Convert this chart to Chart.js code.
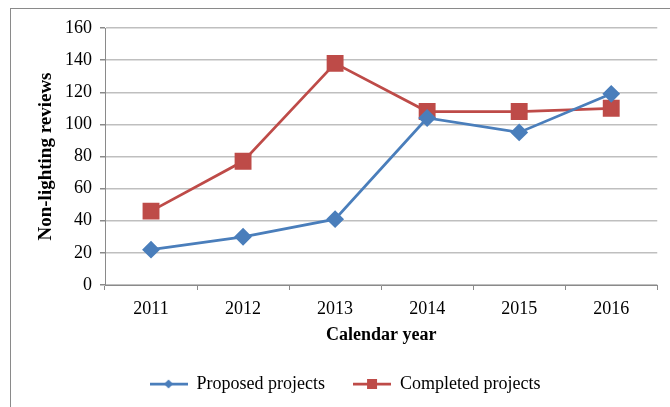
<!DOCTYPE html>
<html lang="en">
<head>
  <meta charset="UTF-8">
  <script src="https://cdn.jsdelivr.net/npm/chart.js"></script>
  <title>Non-lighting reviews</title>
  <style>
    body{margin: 0; overflow: hidden; background: #fff;}
    #frame{position: absolute; left: 10px; top: 8px; width: 700px; height: 420px; border: 1px solid #8a8a8a;}
    #wrap{position: absolute; left: 0; top: 0; width: 670px; height: 407px;}
  </style>
</head>
<body>
  <div id="frame"></div>
  <div id="wrap">
    <canvas id="myChart"></canvas>
  </div>
  <script>
    const years = ['2011', '2012', '2013', '2014', '2015', '2016'];
    const proposed = [22, 30, 41, 104, 95, 119];
    const completed = [46, 77, 138, 108, 108, 110];
    const yTicks = [0, 20, 40, 60, 80, 100, 120, 140, 160];

    const blue = '#4a7ebb';
    const red = '#be4b48';
    const serif = "'Liberation Serif', 'Times New Roman', serif";

    // legend marker: line with the point on it
    function legendIcon(color, shape){
      const c = document.createElement('canvas');
      c.width = 38; c.height = 14;
      const g = c.getContext('2d');
      g.strokeStyle = color; g.lineWidth = 2.75;
      g.beginPath(); g.moveTo(0, 7); g.lineTo(38, 7); g.stroke();
      g.fillStyle = color;
      g.beginPath();
      if(shape == 'rect'){
        g.rect(14, 2, 10, 10);
      } else {
        g.moveTo(19, 2.5); g.lineTo(23.5, 7); g.lineTo(19, 11.5); g.lineTo(14.5, 7); g.closePath();
      }
      g.fill();
      return c;
    }

    const ctx = document.getElementById('myChart');

    new Chart(ctx, {
      type: 'line',
      data: {
        labels: years,
        datasets: [{
          label: 'Proposed projects',
          data: proposed,
          borderColor: blue,
          backgroundColor: blue,
          borderWidth: 2.75,
          pointStyle: 'rectRot',
          pointRadius: 7,
          pointHoverRadius: 7,
          tension: 0
        }, {
          label: 'Completed projects',
          data: completed,
          borderColor: red,
          backgroundColor: red,
          borderWidth: 2.75,
          pointStyle: 'rect',
          pointRadius: 10,
          pointHoverRadius: 10,
          tension: 0
        }]
      },
      options: {
        responsive: true,
        maintainAspectRatio: false,
        animation: false,
        layout: {padding: {top: 28, left: 30, right: 10, bottom: 4}},
        plugins: {
          tooltip: {enabled: false},
          legend: {
            position: 'bottom',
            labels: {
              usePointStyle: true,
              pointStyleWidth: 38,
              padding: 28,
              color: '#000',
              font: {family: serif, size: 18},
              generateLabels: function(chart){
                return chart.data.datasets.map(function(ds, i){
                  return {
                    text: ds.label,
                    pointStyle: legendIcon(ds.borderColor, ds.pointStyle == 'rect' ? 'rect' : 'diamond'),
                    fillStyle: ds.borderColor,
                    strokeStyle: ds.borderColor,
                    lineWidth: 0,
                    fontColor: '#000',
                    datasetIndex: i
                  };
                });
              }
            }
          }
        },
        scales: {
          x: {
            offset: true,
            afterFit: function(s){ s.height = 62; },
            grid: {display: true, drawOnChartArea: false, drawTicks: true, offset: true, tickLength: 5, color: '#8a8a8a'},
            border: {color: '#8a8a8a'},
            ticks: {color: '#000', padding: 8, font: {family: serif, size: 18}},
            title: {display: true, text: 'Calendar year', color: '#000', padding: {top: 0, bottom: 1}, font: {family: serif, size: 18, weight: 'bold'}}
          },
          y: {
            min: 0,
            max: 160,
            afterFit: function(s){ s.width = 75; },
            afterBuildTicks: function(s){ s.ticks = yTicks.map(function(v){ return {value: v}; }); },
            grid: {color: '#bfbfbf', lineWidth: 1.5, tickLength: 5, tickColor: '#8a8a8a'},
            border: {color: '#8a8a8a'},
            ticks: {color: '#000', padding: 8, font: {family: serif, size: 18}},
            title: {display: true, text: 'Non-lighting reviews', color: '#000', padding: {top: 5, bottom: 0}, font: {family: serif, size: 19, weight: 'bold'}}
          }
        }
      }
    });
  </script>
</body>
</html>
